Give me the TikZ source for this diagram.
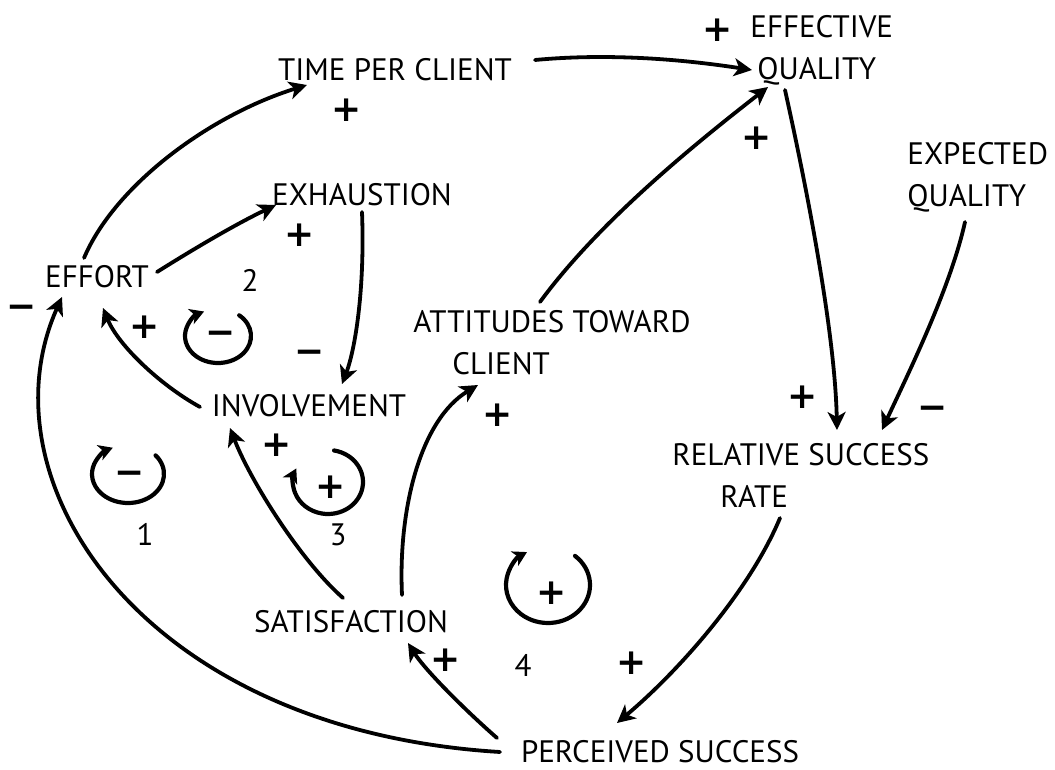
\documentclass[tikz,border=0pt]{standalone}
\usepackage{fontspec}
\setmainfont{PT Sans}
\newfontfamily\signfont{DejaVu Sans}
\usetikzlibrary{arrows.meta}
\tikzset{
  lbl/.style={inner sep=0pt, font=\fontsize{15.5}{21}\selectfont},
  lbl2/.style={lbl, align=left, anchor=west},
  pol/.style={inner sep=0pt, font=\signfont\bfseries\fontsize{18}{18}\selectfont},
  num/.style={inner sep=0pt, font=\fontsize{15.5}{21}\selectfont},
  link/.style={line width=1.9pt, -{Stealth[length=9pt,width=9pt,inset=2.5pt]}, line cap=round},
  loopline/.style={line width=2.1pt, -{Stealth[length=7pt,width=8pt,inset=2pt]}, line cap=round}
}
\begin{document}
\begin{tikzpicture}[x=0.5pt,y=-0.5pt]
\useasboundingbox (0,0) rectangle (1055,770);
% nodes
\node[lbl] (tpc) at (395,70) {TIME PER CLIENT};
\node[lbl2] (eq) at (750,50) {EFFECTIVE\\\hspace*{3.5pt}QUALITY};
\node[lbl2] (exq) at (907,177) {EXPECTED\\QUALITY};
\node[lbl] (exh) at (362,195) {EXHAUSTION};
\node[lbl] (eff) at (97,277) {EFFORT};
\node[lbl2] (att) at (413,343) {ATTITUDES TOWARD\\\hspace*{19.5pt}CLIENT};
\node[lbl] (inv) at (309,406) {INVOLVEMENT};
\node[lbl2] (rel) at (672,475) {RELATIVE SUCCESS\\\hspace*{24pt}RATE};
\node[lbl] (sat) at (351,622) {SATISFACTION};
\node[lbl] (per) at (660,752) {PERCEIVED SUCCESS};
% connectors
\draw[link] ([shift={(-13,-19)}]eff.center) .. controls (115,185) and (210,115) .. ([shift={(-88,15)}]tpc.center);
\draw[link] ([shift={(140,-10)}]tpc.center) .. controls (620,52) and (700,62) .. ([shift={(2,20)}]eq.west);
\draw[link] ([shift={(60,-5)}]eff.center) .. controls (200,245) and (240,222) .. ([shift={(-86,10)}]exh.center);
\draw[link] ([shift={(0,17)}]exh.center) .. controls (365,290) and (355,350) .. ([shift={(33,-22)}]inv.center);
\draw[link] ([shift={(-109,1)}]inv.center) .. controls (160,385) and (118,345) .. ([shift={(6,31)}]eff.center);
\draw[link] ([shift={(-160,0)}]per.center) .. controls (140,730) and (-20,480) .. ([shift={(-35,20)}]eff.center);
\draw[link] ([shift={(-8,-24)}]sat.center) .. controls (300,560) and (250,480) .. ([shift={(-79,22)}]inv.center);
\draw[link] ([shift={(51,-27)}]sat.center) .. controls (398,510) and (420,420) .. ([shift={(65,42)}]att.west);
\draw[link] ([shift={(127,-41)}]att.west) .. controls (600,220) and (700,140) .. ([shift={(18,37)}]eq.west);
\draw[link] ([shift={(35,40)}]eq.west) .. controls (805,180) and (835,330) .. ([shift={(165,-45)}]rel.west);
\draw[link] ([shift={(58,45)}]exq.west) .. controls (950,290) and (905,380) .. ([shift={(210,-45)}]rel.west);
\draw[link] ([shift={(108,43)}]rel.west) .. controls (750,590) and (680,670) .. ([shift={(-43,-29)}]per.center);
\draw[link] ([shift={(-163,-14)}]per.center) .. controls (465,710) and (425,670) .. ([shift={(57,21)}]sat.center);
% polarity signs
\node[pol] (p1) at (347,110) {+};
\node[pol] (p2) at (718,30) {+};
\node[pol] (p3) at (757,138) {+};
\node[pol] (p4) at (300,235) {+};
\node[pol] (m1) at (22,312) {−};
\node[pol] (p5) at (145,327) {+};
\node[pol] (m2) at (310,357) {−};
\node[pol] (p6) at (803,397) {+};
\node[pol] (m3) at (933,413) {−};
\node[pol] (p7) at (498,415) {+};
\node[pol] (p8) at (277,445) {+};
\node[pol] (p9) at (446,660) {+};
\node[pol] (p10) at (632,663) {+};
% loop numbers
\node[num] (n2) at (250,280) {2};
\node[num] (n1) at (145,534) {1};
\node[num] (n3) at (338,535) {3};
\node[num] (n4) at (523,665) {4};
% loop symbols
\draw[loopline] (218,336) ++(-50:33 and 27) arc[start angle=-50, end angle=245, x radius=33, y radius=27];
\node[pol] (l2) at (221,338) {−};
\draw[loopline] (128,474) ++(-40:36 and 29) arc[start angle=-40, end angle=245, x radius=36, y radius=29];
\node[pol] (l1) at (130,478) {−};
\draw[loopline] (328,482) ++(-80:35 and 32) arc[start angle=-80, end angle=205, x radius=35, y radius=32];
\node[pol] (l3) at (331,487) {+};
\draw[loopline] (548,585) ++(-50:42 and 38) arc[start angle=-50, end angle=240, x radius=42, y radius=38];
\node[pol] (l4) at (552,593) {+};
\end{tikzpicture}
\end{document}
